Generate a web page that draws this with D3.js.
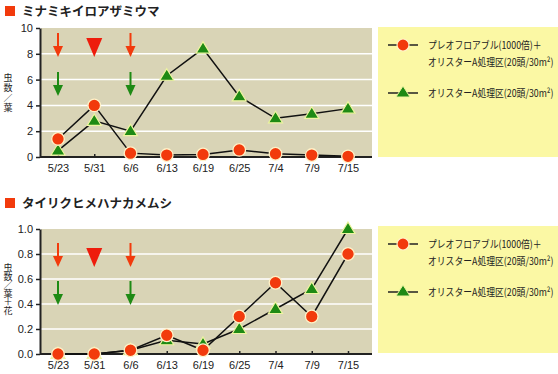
<!DOCTYPE html>
<html><head><meta charset="utf-8">
<script src="https://cdn.jsdelivr.net/npm/d3@7"></script>
<style>
html,body{margin:0;padding:0;background:#fff;}
svg{display:block;}
text{font-family:"Noto Sans CJK JP","Noto Sans",sans-serif;}
.tick text{font-family:"Liberation Sans","Noto Sans",sans-serif;}
</style></head>
<body>
<svg id="c" width="558" height="374"></svg>
<script>
const categories = ["5/23","5/31","6/6","6/13","6/19","6/25","7/4","7/9","7/15"];
const titles = ["ミナミキイロアザミウマ","タイリクヒメハナカメムシ"];
const yLabels = ["虫数／葉","虫数／葉＋花"];
const thripsCombo = [1.4,4.0,0.3,0.15,0.2,0.55,0.25,0.15,0.05];
const thripsOrius = [0.5,2.8,2.0,6.3,8.4,4.7,3.0,3.35,3.75];
const oriusCombo = [0,0,0.03,0.15,0.03,0.30,0.57,0.30,0.80];
const oriusOrius = [0,0,0.03,0.11,0.08,0.20,0.36,0.52,1.0];
const ticksTop = [0,2,4,6,8,10];
const ticksBottom = [0,0.2,0.4,0.6,0.8,1.0];
const legendCombo = ["プレオフロアブル(1000倍)＋","オリスターA処理区(20頭/30m²)"];
const legendOrius = ["オリスターA処理区(20頭/30m²)"];
const arrowDates = ["5/23","6/6"];
const triangleDate = "5/31";

const svg = d3.select("#c");
const RED="#f23a0c", GREEN="#1e8a14", BG="#d9d4b6", LEG="#fbf8a4";

function panel(cfg){
  const g = svg.append("g");
  g.append("rect").attr("x",5).attr("y",cfg.titleY-5).attr("width",10).attr("height",10).attr("fill",RED);
  g.append("text").attr("x",22).attr("y",cfg.titleY).attr("dy","0.36em")
    .attr("font-size",12.5).attr("font-weight","bold").attr("fill","#222").text(cfg.title);
  const x = d3.scalePoint().domain(categories).range([58,348]);
  const y = d3.scaleLinear().domain([0,cfg.max]).range([cfg.y0,cfg.y1]);
  g.append("rect").attr("x",41).attr("y",cfg.y1).attr("width",331).attr("height",cfg.y0-cfg.y1).attr("fill",BG);
  g.selectAll(".grid").data(cfg.ticks.slice(1,-1)).join("line")
    .attr("x1",41).attr("x2",372).attr("y1",d=>y(d)).attr("y2",d=>y(d))
    .attr("stroke","#fff").attr("stroke-width",1.5);
  const ya = g.append("g").attr("transform","translate(40,0)")
    .call(d3.axisLeft(y).tickValues(cfg.ticks).tickFormat(cfg.fmt).tickSize(4).tickSizeOuter(0).tickPadding(3));
  ya.select(".domain").attr("stroke","#222").attr("stroke-width",2);
  ya.selectAll(".tick line").attr("stroke","#222").attr("stroke-width",1.5);
  ya.selectAll(".tick text").attr("font-size",11).attr("fill","#222");
  const xa = g.append("g").attr("transform",`translate(0,${cfg.y0})`)
    .call(d3.axisBottom(x).tickSize(-3).tickSizeOuter(0).tickPadding(7));
  xa.select(".domain").attr("d",`M40,0H372`).attr("stroke","#222").attr("stroke-width",2);
  xa.selectAll(".tick line").attr("stroke","#222").attr("stroke-width",1.5);
  xa.selectAll(".tick text").attr("font-size",11).attr("fill","#222");
  // vertical y label: run rotated 90deg, glyphs rotated back upright
  g.append("text").attr("transform",`translate(3.5,${cfg.labelY+8}) rotate(90)`)
    .attr("x",0).attr("y",0).attr("rotate",-90)
    .attr("font-size",9).attr("letter-spacing",cfg.labelSpacing).attr("fill","#222").text(cfg.ylabel);
  arrowDates.forEach(d=>{
    const cx = x(d);
    drawArrow(g,cx,cfg.arrowRedY,RED);
    drawArrow(g,cx,cfg.arrowGreenY,GREEN);
  });
  const tx = x(triangleDate), ty = cfg.arrowRedY+5;
  g.append("path").attr("d",`M${tx-8},${ty}L${tx+8},${ty}L${tx},${ty+19}Z`).attr("fill","#ee1c0c");
  const line = d3.line().x((d,i)=>x(categories[i])).y(d=>y(d));
  [cfg.combo,cfg.orius].forEach(s=>{
    g.append("path").attr("d",line(s)).attr("fill","none").attr("stroke","#111").attr("stroke-width",1.5);
  });
  g.selectAll(".tri").data(cfg.orius).join("path")
    .attr("d",(d,i)=>{const cx=x(categories[i]), cy=y(d); return `M${cx},${cy-7}L${cx+7},${cy+4.5}L${cx-7},${cy+4.5}Z`;})
    .attr("fill",GREEN).attr("stroke","#eef5a0").attr("stroke-width",1.2);
  g.selectAll(".cir").data(cfg.combo).join("circle")
    .attr("cx",(d,i)=>x(categories[i])).attr("cy",d=>y(d)).attr("r",6.3)
    .attr("fill",RED).attr("stroke","#fff2c8").attr("stroke-width",1.3);
  const lx = 378, lw = 180;
  g.append("rect").attr("x",lx).attr("y",cfg.legY0).attr("width",lw).attr("height",cfg.legY1-cfg.legY0).attr("fill",LEG);
  const e1 = cfg.legY0+18, e2 = cfg.legY0+66;
  g.append("line").attr("x1",388).attr("x2",418).attr("y1",e1).attr("y2",e1).attr("stroke","#222").attr("stroke-width",1.5);
  g.append("circle").attr("cx",403).attr("cy",e1).attr("r",6).attr("fill",RED).attr("stroke","#fff2c8").attr("stroke-width",1.2);
  g.append("line").attr("x1",388).attr("x2",418).attr("y1",e2).attr("y2",e2).attr("stroke","#222").attr("stroke-width",1.5);
  g.append("path").attr("d",`M403,${e2-7}L410,${e2+4}L396,${e2+4}Z`).attr("fill",GREEN).attr("stroke","#eef5a0").attr("stroke-width",1);
  const lt = g.append("g").attr("font-size",10.5).attr("fill","#222")
    .attr("transform","translate(428,0) scale(0.84,1)");
  legendCombo.forEach((t,i)=>{
    lt.append("text").attr("x",0).attr("y",e1+i*17).attr("dy","0.36em").text(t);
  });
  legendOrius.forEach((t,i)=>{
    lt.append("text").attr("x",0).attr("y",e2+i*17).attr("dy","0.36em").text(t);
  });
}
function drawArrow(g,cx,top,col){
  g.append("line").attr("x1",cx).attr("x2",cx).attr("y1",top).attr("y2",top+16).attr("stroke",col).attr("stroke-width",2);
  g.append("path").attr("d",`M${cx-5},${top+13}L${cx+5},${top+13}L${cx},${top+24}Z`).attr("fill",col);
}

panel({title:titles[0],titleY:11,max:10,y0:157,y1:28,ticks:ticksTop,fmt:d3.format("d"),
  ylabel:yLabels[0],labelY:73,labelSpacing:1,arrowRedY:33,arrowGreenY:72,combo:thripsCombo,orius:thripsOrius,legY0:27,legY1:157});
panel({title:titles[1],titleY:203,max:1,y0:354,y1:229,ticks:ticksBottom,fmt:d3.format(".1f"),
  ylabel:yLabels[1],labelY:263,labelSpacing:-0.5,arrowRedY:243,arrowGreenY:281,combo:oriusCombo,orius:oriusOrius,legY0:226,legY1:353});
</script>
</body></html>
